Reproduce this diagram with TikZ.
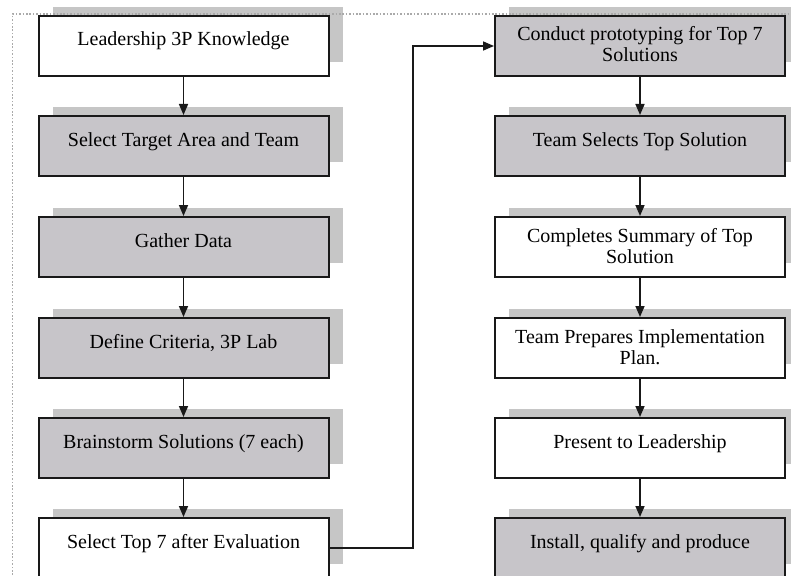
\documentclass[tikz,border=0pt]{standalone}
\usepackage{fontspec}
\setmainfont{Liberation Serif}
\usetikzlibrary{arrows.meta,backgrounds}
\definecolor{boxgray}{RGB}{199,197,201}
\definecolor{shadowgray}{RGB}{198,198,198}
\definecolor{framegray}{RGB}{170,170,170}
\definecolor{edgeblack}{RGB}{25,25,25}
\newcommand\bxt[2]{\parbox[c][60pt][t]{284pt}{\centering\fontsize{20}{21}\selectfont\rule{0pt}{#1}#2}}
\begin{document}
\begin{tikzpicture}[x=1pt,y=-1pt,
  box/.style={draw=edgeblack, line width=2pt, minimum width=290pt, minimum height=60pt, inner sep=0pt, outer sep=1pt},
  gbox/.style={box, fill=boxgray},
  wbox/.style={box, fill=white},
  arr/.style={draw=edgeblack, line width=1.6pt, -{Triangle[length=11pt,width=9pt]}},
  shadow/.style={fill=shadowgray},
  frame/.style={draw=framegray, line width=1.4pt, dash pattern=on 1.6pt off 1.8pt}]
\clip (0,0) rectangle (791,575);
% left column
\node[wbox] (l1) at (183.5,46)  {\bxt{30pt}{Leadership 3P Knowledge}};
\node[gbox] (l2) at (183.5,146) {\bxt{30pt}{Select Target Area and Team}};
\node[gbox] (l3) at (183.5,247) {\bxt{30pt}{Gather Data}};
\node[gbox] (l4) at (183.5,348) {\bxt{30pt}{Define Criteria, 3P Lab}};
\node[gbox] (l5) at (183.5,448) {\bxt{30pt}{Brainstorm Solutions (7 each)}};
\node[wbox] (l6) at (183.5,548) {\bxt{30pt}{Select Top 7 after Evaluation}};
% right column
\node[gbox] (r1) at (640,46)  {\bxt{25pt}{Conduct prototyping for Top 7\\Solutions}};
\node[gbox] (r2) at (640,146) {\bxt{30pt}{Team Selects Top Solution}};
\node[wbox] (r3) at (640,247) {\bxt{25pt}{Completes Summary of Top\\Solution}};
\node[wbox] (r4) at (640,348) {\bxt{25pt}{Team Prepares Implementation\\Plan.}};
\node[wbox] (r5) at (640,448) {\bxt{30pt}{Present to Leadership}};
\node[gbox] (r6) at (640,548) {\bxt{30pt}{Install, qualify and produce}};
% shadows and frame behind the boxes
\begin{pgfonlayer}{background}
  \foreach \n in {l1,l2,l3,l4,l5,l6,r1,r2,r3,r4,r5,r6}
    \fill[shadow] ([shift={(15,-8)}]\n.north west) rectangle ([shift={(13,-15)}]\n.south east);
  \draw[frame] (12.5,575) -- (12.5,14) -- (791,14);
\end{pgfonlayer}
% connectors
\foreach \a/\b in {l1/l2,l2/l3,l3/l4,l4/l5,l5/l6,r1/r2,r2/r3,r3/r4,r4/r5,r5/r6}
  \draw[arr] (\a.south) -- (\b.north);
\coordinate (jx) at (413,0);
\draw[arr] (l6.east) -- (l6.east -| jx) |- (r1.west);
\end{tikzpicture}
\end{document}
